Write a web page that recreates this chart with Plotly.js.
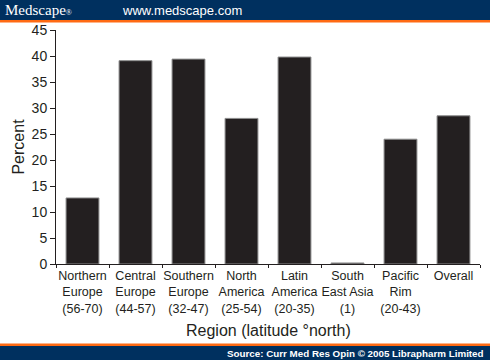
<!DOCTYPE html>
<html>
<head>
<meta charset="utf-8">
<script src="https://cdn.plot.ly/plotly-3.0.1.min.js"></script>
<style>html,body{margin:0;padding:0;background:#fff;}#chart{width:490px;height:360px;}</style>
</head>
<body>
<div id="chart"></div>
<script>
const categories = [
  "Northern<br>Europe<br>(56-70)",
  "Central<br>Europe<br>(44-57)",
  "Southern<br>Europe<br>(32-47)",
  "North<br>America<br>(25-54)",
  "Latin<br>America<br>(20-35)",
  "South<br>East Asia<br>(1)",
  "Pacific<br>Rim<br>(20-43)",
  "Overall"
];
const percentValues = [12.7, 39.1, 39.4, 28.0, 39.8, 0.2, 24.0, 28.5];
const yTickValues = [0, 5, 10, 15, 20, 25, 30, 35, 40, 45];

const W = 490, H = 360;
const M = {l: 56, r: 10, t: 30, b: 96};
const plotH = H - M.t - M.b;
const plotW = W - M.l - M.r;
function py(px) { return (H - M.b - px) / plotH; }
function pxX(px) { return (px - M.l) / plotW; }

const navy = "#00305f";
const orange = "#ff6a13";

const shapes = [
  {type: "rect", xref: "paper", yref: "paper", x0: pxX(0), x1: pxX(W), y0: py(20), y1: py(0), fillcolor: navy, line: {width: 0}, layer: "above"},
  {type: "rect", xref: "paper", yref: "paper", x0: pxX(0), x1: pxX(W), y0: py(22.5), y1: py(20), fillcolor: orange, line: {width: 0}, layer: "above"},
  {type: "rect", xref: "paper", yref: "paper", x0: pxX(0), x1: pxX(W), y0: py(346), y1: py(343.5), fillcolor: orange, line: {width: 0}, layer: "above"},
  {type: "rect", xref: "paper", yref: "paper", x0: pxX(0), x1: pxX(W), y0: py(H), y1: py(346), fillcolor: navy, line: {width: 0}, layer: "above"}
];

const annotations = [
  {text: "Medscape<span style='font-size:8px'>®</span>", xref: "paper", yref: "paper", x: pxX(3), y: py(10), xanchor: "left", yanchor: "middle", showarrow: false,
   font: {family: "Liberation Serif, DejaVu Serif, serif", size: 15, color: "#ffffff"}},
  {text: "www.medscape.com", xref: "paper", yref: "paper", x: pxX(120), y: py(10), xanchor: "left", yanchor: "middle", showarrow: false,
   font: {family: "Liberation Sans, Arial, sans-serif", size: 13, color: "#ffffff"}},
  {text: "<b>Source: Curr Med Res Opin © 2005 Librapharm Limited</b>", xref: "paper", yref: "paper", x: pxX(486), y: py(353), xanchor: "right", yanchor: "middle", showarrow: false,
   font: {family: "Liberation Sans, Arial, sans-serif", size: 9.8, color: "#ffffff"}},
  {text: "Region (latitude °north)", xref: "paper", yref: "paper", x: 0.5, y: py(330), xanchor: "center", yanchor: "middle", showarrow: false,
   font: {family: "Liberation Sans, Arial, sans-serif", size: 16, color: "#231f20"}}
];

const trace = {
  type: "bar",
  x: categories,
  y: percentValues,
  marker: {color: "#231f20", line: {color: "#8c8c8c", width: 1}},
  hoverinfo: "skip"
};

const layout = {
  width: W, height: H,
  margin: M,
  paper_bgcolor: "#ffffff",
  plot_bgcolor: "#ffffff",
  showlegend: false,
  bargap: 0.38,
  font: {family: "Liberation Sans, Arial, sans-serif", color: "#231f20"},
  xaxis: {
    type: "category",
    range: [-0.5, 7.5],
    automargin: false,
    showline: true, linecolor: "#231f20", linewidth: 1,
    ticks: "outside", tickson: "boundaries", ticklen: 3, tickcolor: "#231f20",
    tickangle: 0,
    showgrid: false, zeroline: false,
    tickfont: {size: 12.5, color: "#231f20"},
    fixedrange: true
  },
  yaxis: {
    range: [0, 45],
    automargin: false,
    tickvals: yTickValues,
    showline: true, linecolor: "#231f20", linewidth: 1,
    ticks: "outside", ticklen: 5, tickcolor: "#231f20",
    showgrid: false, zeroline: false,
    tickfont: {size: 14, color: "#231f20"},
    title: {text: "Percent", font: {size: 16, color: "#231f20"}, standoff: 3},
    fixedrange: true
  },
  shapes: shapes,
  annotations: annotations
};

Plotly.newPlot("chart", [trace], layout, {displayModeBar: false, staticPlot: true});
</script>
</body>
</html>
